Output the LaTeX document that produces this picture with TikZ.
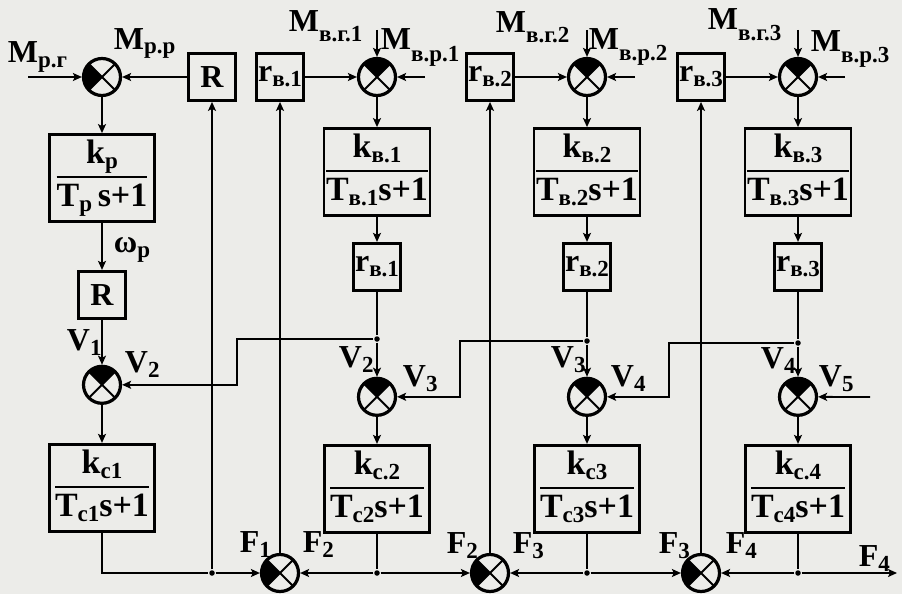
\documentclass[tikz,border=0pt]{standalone}
\usepackage{fontspec}
\setmainfont{Liberation Serif}
\usepackage{tikz}
\usetikzlibrary{arrows.meta, positioning, calc}
\definecolor{paper}{RGB}{236,236,233}
\newcommand{\dn}[2][5pt]{\raisebox{-#1}{\fontsize{23}{24}\selectfont #2}}
\newcommand{\blkfrac}[2]{{\setlength{\arrayrulewidth}{2pt}%
  \begin{tabular}{@{}c@{}}#1\\[3pt]\hline\rule{0pt}{28pt}#2\end{tabular}}}

\begin{document}
\begin{tikzpicture}[
  x=1pt, y=-1pt,
  line width=1.8pt,
  blk/.style   = {rectangle, draw, line width=2.8pt, minimum width=47pt,
                  minimum height=47pt, inner sep=1pt,
                  font=\bfseries\fontsize{32}{34}\selectfont},
  tfbox/.style = {rectangle, draw, line width=2.8pt, minimum width=105pt,
                  minimum height=87pt, inner sep=2pt,
                  font=\bfseries\fontsize{34}{34}\selectfont},
  adder/.style = {circle, draw, line width=3.2pt, minimum size=37pt, inner sep=0pt,
                  path picture={
                    \fill (path picture bounding box.center) -- +({#1-45}:30pt)
                      -- +(#1:40pt) -- +({#1+45}:30pt) -- cycle;
                    \draw[line width=2pt] (path picture bounding box.center)
                      +(45:30pt) -- +(225:30pt) +(135:30pt) -- +(315:30pt);}},
  arr/.style   = {-{Stealth[length=9pt, width=8pt, inset=2pt]}},
  jdot/.style  = {circle, fill, inner sep=0pt, minimum size=5.5pt},
  lbl/.style   = {anchor=base west, inner sep=0pt,
                  font=\bfseries\fontsize{32}{34}\selectfont},
]
\path[use as bounding box, fill=paper] (0,0) rectangle (902,594);
% Row 1: input summers and feedback gains
\node[adder=180] (sr)  at (102,77) {};
\node[blk]       (R1)  at (212,77) {R};
\node[blk]       (rb1) at (280,77) {r\dn{в.1}};
\node[adder=90]  (sv1) at (377,77) {};
\node[blk]       (rb2) at (490,77) {r\dn{в.2}};
\node[adder=90]  (sv2) at (587,77) {};
\node[blk]       (rb3) at (701,77) {r\dn{в.3}};
\node[adder=90]  (sv3) at (798,77) {};
% Column 1: rotor
\node[tfbox, below=36pt of sr]  (kp)  {\blkfrac{k\dn{р}}{T\dn{р}\,s+1}};
\node[blk,   below=47pt of kp]  (R2)  {R};
\node[adder=90, below=45pt of R2] (s1) {};
\node[tfbox, below=38pt of s1]  (kc1) {\blkfrac{k\dn{с1}}{T\dn{с1}s+1}};
% Columns 2-4: drums
\node[tfbox, below=30pt of sv1] (kv1) {\blkfrac{k\dn{в.1}}{T\dn{в.1}s+1}};
\node[blk,   below=25pt of kv1] (rv1) {r\dn{в.1}};
\node[adder=90, below=85pt of rv1] (s2) {};
\node[tfbox, below=27pt of s2]  (kc2) {\blkfrac{k\dn{с.2}}{T\dn{с2}s+1}};
\node[tfbox, below=30pt of sv2] (kv2) {\blkfrac{k\dn{в.2}}{T\dn{в.2}s+1}};
\node[blk,   below=25pt of kv2] (rv2) {r\dn{в.2}};
\node[adder=90, below=85pt of rv2] (s3) {};
\node[tfbox, below=27pt of s3]  (kc3) {\blkfrac{k\dn{с3}}{T\dn{с3}s+1}};
\node[tfbox, below=30pt of sv3] (kv3) {\blkfrac{k\dn{в.3}}{T\dn{в.3}s+1}};
\node[blk,   below=25pt of kv3] (rv3) {r\dn{в.3}};
\node[adder=90, below=85pt of rv3] (s4) {};
\node[tfbox, below=27pt of s4]  (kc4) {\blkfrac{k\dn{с.4}}{T\dn{с4}s+1}};
% Bottom row: force summers
\node[adder=180] (f1) at (280,573) {};
\node[adder=180] (f2) at (490,573) {};
\node[adder=180] (f3) at (701,573) {};
% Junctions and free ends
\node[jdot] (j1) at (R1 |- f1) {};
\node[jdot] (k2) at (kc2 |- f1) {};
\node[jdot] (k3) at (kc3 |- f1) {};
\node[jdot] (k4) at (kc4 |- f1) {};
\node[jdot] (j2) at (377,339) {};
\node[jdot] (j3) at (587,341) {};
\node[jdot] (j4) at (798,343) {};
\coordinate (c2) at (237,339);
\coordinate (c3) at (460,341);
\coordinate (c4) at (669,343);
\coordinate (mrg)  at (28,77);
\coordinate (mvg1) at (377,30);
\coordinate (mvr1) at (425,77);
\coordinate (mvg2) at (587,30);
\coordinate (mvr2) at (635,77);
\coordinate (mvg3) at (798,30);
\coordinate (mvr3) at (845,77);
\coordinate (v5in) at (870,397);
\coordinate (fout) at (897,573);
% Arrows, row 1
\draw[arr] (mrg) -- (sr);
\draw[arr] (R1)  -- (sr);
\draw[arr] (rb1) -- (sv1);
\draw[arr] (rb2) -- (sv2);
\draw[arr] (rb3) -- (sv3);
\draw[arr] (mvg1) -- (sv1);
\draw[arr] (mvr1) -- (sv1);
\draw[arr] (mvg2) -- (sv2);
\draw[arr] (mvr2) -- (sv2);
\draw[arr] (mvg3) -- (sv3);
\draw[arr] (mvr3) -- (sv3);
% Arrows, column 1
\draw[arr] (sr) -- (kp);
\draw[arr] (kp) -- (R2);
\draw[arr] (R2) -- (s1);
\draw[arr] (s1) -- (kc1);
\draw (kc1) |- (j1);
\draw[arr] (j1) -- (f1);
\draw[arr] (j1) -- (R1);
% Arrows, columns 2-4
\draw[arr] (sv1) -- (kv1);
\draw[arr] (kv1) -- (rv1);
\draw (rv1) -- (j2);
\draw[arr] (j2) -- (s2);
\draw[arr] (s2) -- (kc2);
\draw (kc2) -- (k2);
\draw[arr] (sv2) -- (kv2);
\draw[arr] (kv2) -- (rv2);
\draw (rv2) -- (j3);
\draw[arr] (j3) -- (s3);
\draw[arr] (s3) -- (kc3);
\draw (kc3) -- (k3);
\draw[arr] (sv3) -- (kv3);
\draw[arr] (kv3) -- (rv3);
\draw (rv3) -- (j4);
\draw[arr] (j4) -- (s4);
\draw[arr] (s4) -- (kc4);
\draw (kc4) -- (k4);
% Speed feedback
\draw[arr] (j2) -- (c2) |- (s1);
\draw[arr] (j3) -- (c3) |- (s2);
\draw[arr] (j4) -- (c4) |- (s3);
\draw[arr] (v5in) -- (s4);
% Force links
\draw[arr] (k2) -- (f1);
\draw[arr] (k2) -- (f2);
\draw[arr] (k3) -- (f2);
\draw[arr] (k3) -- (f3);
\draw[arr] (k4) -- (f3);
\draw[arr] (k4) -- (fout);
\draw[arr] (f1) -- (rb1);
\draw[arr] (f2) -- (rb2);
\draw[arr] (f3) -- (rb3);
% Labels
\node[lbl] (lMrg)  at (7,63)   {M\dn{р.г}};
\node[lbl] (lMrr)  at (113,50) {M\dn[4pt]{р.р}};
\node[lbl] (lMvg1) at (288,32) {M\dn[10pt]{в.г.1}};
\node[lbl] (lMvr1) at (380,50) {M\dn[12pt]{в.р.1}};
\node[lbl] (lMvg2) at (495,33) {M\dn[10pt]{в.г.2}};
\node[lbl] (lMvr2) at (588,50) {M\dn[10pt]{в.р.2}};
\node[lbl] (lMvg3) at (707,30) {M\dn[11pt]{в.г.3}};
\node[lbl] (lMvr3) at (810,52) {M\dn[11pt]{в.р.3}};
\node[lbl] (lw)    at (113,252) {ω\dn{р}};
\node[lbl] (lV1)   at (66,350)  {V\dn{1}};
\node[lbl] (lV2a)  at (124,372) {V\dn{2}};
\node[lbl] (lV2b)  at (338,367) {V\dn{2}};
\node[lbl] (lV3a)  at (402,386) {V\dn{3}};
\node[lbl] (lV3b)  at (550,367) {V\dn{3}};
\node[lbl] (lV4a)  at (610,386) {V\dn{4}};
\node[lbl] (lV4b)  at (760,368) {V\dn{4}};
\node[lbl] (lV5)   at (818,386) {V\dn{5}};
\node[lbl] (lF1)   at (239,552) {F\dn{1}};
\node[lbl] (lF2a)  at (302,552) {F\dn{2}};
\node[lbl] (lF2b)  at (446,553) {F\dn{2}};
\node[lbl] (lF3a)  at (512,553) {F\dn{3}};
\node[lbl] (lF3b)  at (658,553) {F\dn{3}};
\node[lbl] (lF4a)  at (725,553) {F\dn{4}};
\node[lbl] (lF4b)  at (858,566) {F\dn{4}};
\end{tikzpicture}
\end{document}
